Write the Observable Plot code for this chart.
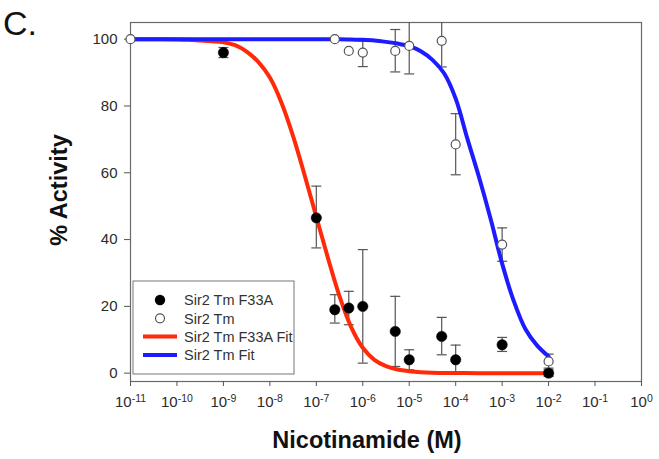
<!DOCTYPE html>
<html><head><meta charset="utf-8">
<script src="https://cdn.jsdelivr.net/npm/d3@7"></script>
<script src="https://cdn.jsdelivr.net/npm/@observablehq/plot@0.6"></script>
<style>body{margin:0;background:#fff}</style>
</head><body><div id="chart"></div>
<script>
// ---- data ----
const xTickExponents = [-11, -10, -9, -8, -7, -6, -5, -4, -3, -2, -1, 0];
const yTicks = [0, 20, 40, 60, 80, 100];

const seriesNames = ["Sir2 Tm F33A", "Sir2 Tm", "Sir2 Tm F33A Fit", "Sir2 Tm Fit"];

// Sir2 Tm F33A (filled)
const f33aConc     = [1e-9, 1e-7, 2.5e-7, 5e-7, 1e-6, 5e-6, 1e-5, 5e-5, 1e-4, 1e-3, 1e-2];
const f33aActivity = [96,   46.5, 19,     19.5, 20,   12.5, 4,    11,   4,    8.5,  0];
const f33aLow      = [94.5, 37.5, 15,     14.5, 3,    2,    1,    5.5,  0,    6.5,  -1];
const f33aHigh     = [97.5, 56,   23.5,   24.5, 37,   23,   7,    16.7, 8.4,  10.7, 1];

// Sir2 Tm (open)
const wtConc     = [1e-11, 2.5e-7, 5e-7, 1e-6, 5e-6,  1e-5, 5e-5, 1e-4, 1e-3, 1e-2];
const wtActivity = [100,   100,    96.5, 96,   96.5,  98,   99.5, 68.5, 38.5, 3.5];
const wtLow      = [100,   100,    96.5, 91.8, 90.2,  89.6, 91.7, 59.4, 33.5, 1.5];
const wtHigh     = [100,   100,    96.5, 99.5, 102.9, 108,  108,  77.7, 43.5, 5.7];

// fitted curves, points (log10 of concentration)
const f33aFitLogConc  = [-11, -10.5, -10, -9.75, -9.5, -9.25, -9, -8.75, -8.5, -8.25, -8, -7.75, -7.5, -7.25, -7, -6.75, -6.5, -6.25, -6, -5.75, -5.5, -5.25, -5, -4.75, -4.5, -4, -3.5, -3, -2.5, -2];
const f33aFitActivity = [100, 100, 99.9, 99.8, 99.6, 99.4, 99.1, 98.2, 96.3, 93.2, 88.5, 81, 71, 59.2, 46.8, 34.5, 23, 13.8, 7.6, 4, 2.1, 1.1, 0.6, 0.3, 0.15, 0.05, 0, 0, 0, 0];
const wtFitLogConc  = [-11, -10, -9, -8, -7, -6.5, -6.25, -6, -5.75, -5.5, -5.25, -5, -4.75, -4.5, -4.25, -4, -3.75, -3.5, -3.25, -3, -2.75, -2.5, -2.25, -2];
const wtFitActivity = [100, 100, 100, 100, 100, 100, 99.9, 99.8, 99.6, 99.2, 98.7, 97.9, 96.4, 93.8, 89.8, 82.2, 70.3, 58.8, 46.3, 32.8, 21.6, 13.2, 8.3, 5];

// ---- tables ----
const f33a = f33aConc.map((c, i) => ({c, a: f33aActivity[i], lo: f33aLow[i], hi: f33aHigh[i]}));
const wt = wtConc.map((c, i) => ({c, a: wtActivity[i], lo: wtLow[i], hi: wtHigh[i]}));
const f33aFit = f33aFitLogConc.map((l, i) => ({c: Math.pow(10, l), a: f33aFitActivity[i]}));
const wtFit = wtFitLogConc.map((l, i) => ({c: Math.pow(10, l), a: wtFitActivity[i]}));
const xTicks = xTickExponents.map(e => Math.pow(10, e));

const RED = "#ff2a0a", BLUE = "#1c1cff", GRAY = "#555";
const capSymbol = {draw(ctx) { ctx.moveTo(-5, 0); ctx.lineTo(5, 0); }};

function errorMarks(data) {
  const d = data.filter(e => e.hi > e.lo);
  return [
    Plot.ruleX(d, {x: "c", y1: "lo", y2: "hi", stroke: GRAY, strokeWidth: 1.2, clip: true}),
    Plot.dot(d, {x: "c", y: "lo", symbol: capSymbol, stroke: GRAY, strokeWidth: 1.2, fill: "none", clip: true}),
    Plot.dot(d, {x: "c", y: "hi", symbol: capSymbol, stroke: GRAY, strokeWidth: 1.2, fill: "none", clip: true})
  ];
}

const FONT = "'Liberation Sans', Arial, Helvetica, sans-serif";

const plot = Plot.plot({
  width: 659, height: 459,
  marginLeft: 130, marginRight: 18, marginTop: 22, marginBottom: 78,
  style: {fontFamily: FONT, fontSize: "15px", color: "#2a2a2a", background: "white", overflow: "visible"},
  x: {type: "log", domain: [1e-11, 1]},
  y: {domain: [-2.5, 105]},
  marks: [
    Plot.frame({stroke: "#6a6a6a", strokeWidth: 1.2}),
    Plot.axisX({ticks: xTicks, tickSize: 5, tickPadding: 10, stroke: "#555", tickFormat: d => String(Math.round(Math.log10(d))), label: null}),
    Plot.axisY({ticks: yTicks, tickSize: 6, tickPadding: 7, stroke: "#555", label: null}),
    ...errorMarks(f33a),
    ...errorMarks(wt),
    Plot.line(f33aFit, {x: "c", y: "a", stroke: RED, strokeWidth: 4, curve: "catmull-rom"}),
    Plot.line(wtFit, {x: "c", y: "a", stroke: BLUE, strokeWidth: 4, curve: "catmull-rom"}),
    Plot.dot(f33a, {x: "c", y: "a", r: 5.2, fill: "#000", stroke: "#000", strokeWidth: 0.5}),
    Plot.dot(wt, {x: "c", y: "a", r: 4.5, fill: "white", stroke: GRAY, strokeWidth: 1.2})
  ]
});

const svg = d3.select(plot);

// superscript exponents on x tick labels
svg.selectAll('g[aria-label="x-axis tick label"] text').each(function() {
  const t = d3.select(this);
  const exp = t.text();
  t.text("10");
  t.append("tspan").attr("dy", "-0.5em").attr("font-size", "10.5px").text(exp);
});

// axis titles and panel letter
svg.append("text").attr("x", 367).attr("y", 448).attr("text-anchor", "middle")
  .attr("font-family", FONT).attr("font-weight", "bold").attr("font-size", "23.5px").attr("fill", "#111")
  .text("Nicotinamide (M)");
svg.append("text").attr("transform", "translate(67,190) rotate(-90)").attr("text-anchor", "middle")
  .attr("font-family", FONT).attr("font-weight", "bold").attr("font-size", "23.5px").attr("fill", "#111")
  .text("% Activity");
svg.append("text").attr("x", 3).attr("y", 35).attr("text-anchor", "start")
  .attr("font-family", FONT).attr("font-size", "34px").attr("fill", "#111").text("C.");

// legend
const lg = svg.append("g");
lg.append("rect").attr("x", 133).attr("y", 281).attr("width", 161).attr("height", 93)
  .attr("fill", "white").attr("stroke", "#777").attr("stroke-width", 1);
const rowY = i => 300 + i * 18.3;
lg.append("circle").attr("cx", 160).attr("cy", rowY(0)).attr("r", 5.2).attr("fill", "#000");
lg.append("circle").attr("cx", 160).attr("cy", rowY(1)).attr("r", 4.5).attr("fill", "white").attr("stroke", GRAY).attr("stroke-width", 1.2);
lg.append("line").attr("x1", 143).attr("x2", 177).attr("y1", rowY(2)).attr("y2", rowY(2)).attr("stroke", RED).attr("stroke-width", 4);
lg.append("line").attr("x1", 143).attr("x2", 177).attr("y1", rowY(3)).attr("y2", rowY(3)).attr("stroke", BLUE).attr("stroke-width", 4);
seriesNames.forEach((name, i) => {
  lg.append("text").attr("x", 184).attr("y", rowY(i)).attr("dy", "0.36em").attr("text-anchor", "start")
    .attr("font-family", FONT).attr("font-size", "14.5px").attr("fill", "#333").text(name);
});

document.getElementById("chart").appendChild(plot);
</script></body></html>
